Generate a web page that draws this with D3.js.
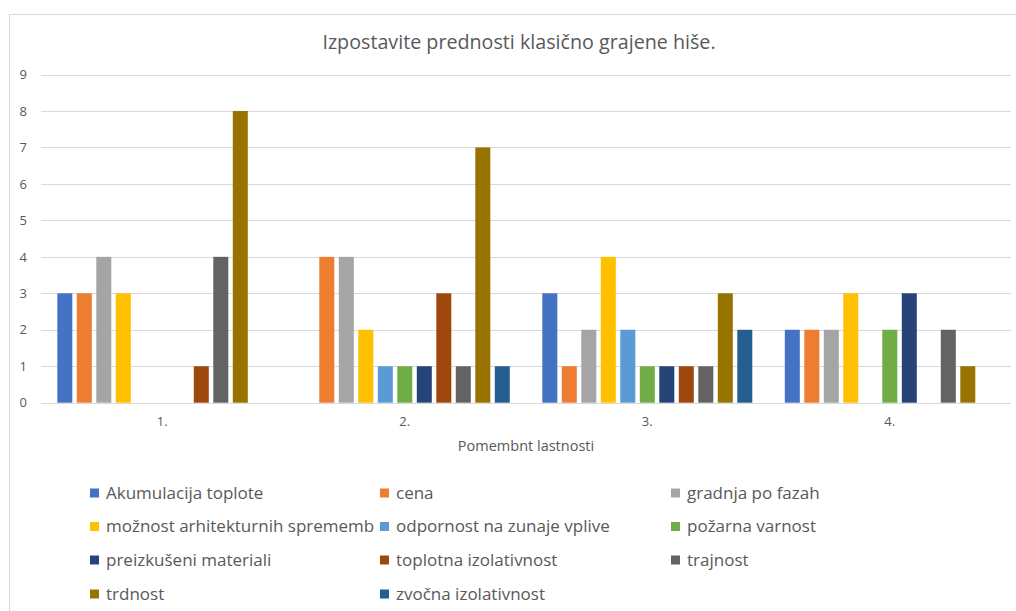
<!DOCTYPE html>
<html>
<head>
<meta charset="utf-8">
<script src="https://cdn.jsdelivr.net/npm/d3@7"></script>
<style>
  html, body { margin: 0; padding: 0; background: #fff; }
  svg { display: block; font-family: "Open Sans", "Liberation Sans", sans-serif; }
</style>
</head>
<body>
<svg id="chart" width="1016" height="611"></svg>
<script>
// Categories on the x axis
const categories = ["1.", "2.", "3.", "4."];

// Series names (legend order)
const seriesNames = [
  "Akumulacija toplote",
  "cena",
  "gradnja po fazah",
  "možnost arhitekturnih sprememb",
  "odpornost na zunaje vplive",
  "požarna varnost",
  "preizkušeni materiali",
  "toplotna izolativnost",
  "trajnost",
  "trdnost",
  "zvočna izolativnost"
];

// Values per series, one entry per category
const akumulacija = [3, 0, 3, 2];
const cena        = [3, 4, 1, 2];
const gradnja     = [4, 4, 2, 2];
const moznost     = [3, 2, 4, 3];
const odpornost   = [0, 1, 2, 0];
const pozarna     = [0, 1, 1, 2];
const preizkuseni = [0, 1, 1, 3];
const toplotna    = [1, 3, 1, 0];
const trajnost    = [4, 1, 1, 2];
const trdnost     = [8, 7, 3, 1];
const zvocna      = [0, 1, 2, 0];

const seriesValues = [akumulacija, cena, gradnja, moznost, odpornost, pozarna,
                      preizkuseni, toplotna, trajnost, trdnost, zvocna];

const yTicks = [0, 1, 2, 3, 4, 5, 6, 7, 8, 9];

const colors = ["#4472C4", "#ED7D31", "#A5A5A5", "#FFC000", "#5B9BD5", "#70AD47",
                "#264478", "#9E480E", "#636363", "#997300", "#255E91"];

const titleText = "Izpostavite prednosti klasično grajene hiše.";
const xAxisTitle = "Pomembnt lastnosti";

const svg = d3.select("#chart");
const textColor = "#595959";

// Chart frame
svg.append("rect")
  .attr("x", 9.5).attr("y", 14.5)
  .attr("width", 1016).attr("height", 611)
  .attr("fill", "#fff").attr("stroke", "#d9d9d9").attr("stroke-width", 1);

const plot = { left: 41, right: 1011, top: 74.5, bottom: 402.7 };

const x0 = d3.scaleBand()
  .domain(categories)
  .range([plot.left, plot.right])
  .paddingInner(0).paddingOuter(0);

const x1 = d3.scaleBand()
  .domain(d3.range(seriesNames.length))
  .range([16.3, 226.3])
  .paddingInner(0.23).paddingOuter(0);

const y = d3.scaleLinear().domain([0, 9]).range([plot.bottom, plot.top]);

// Gridlines
svg.append("g")
  .selectAll("line")
  .data(yTicks)
  .join("line")
  .attr("x1", plot.left).attr("x2", plot.right)
  .attr("y1", d => Math.round(y(d)) + 0.5).attr("y2", d => Math.round(y(d)) + 0.5)
  .attr("stroke", "#d9d9d9").attr("stroke-width", 1);

// Y axis labels
const yAxis = d3.axisLeft(y).tickValues(yTicks).tickSize(0).tickPadding(0);
const yg = svg.append("g")
  .attr("transform", `translate(${plot.left - 14},0)`)
  .call(yAxis);
yg.select(".domain").remove();
yg.selectAll("text")
  .attr("fill", textColor)
  .attr("font-size", 13)
  .attr("font-family", "Open Sans, Liberation Sans, sans-serif");

// Bars
const groups = svg.append("g")
  .selectAll("g")
  .data(categories)
  .join("g")
  .attr("transform", d => `translate(${x0(d)},0)`);

groups.selectAll("rect")
  .data((c, ci) => seriesValues.map((vals, si) => ({ si, v: vals[ci] })))
  .join("rect")
  .filter(d => d.v > 0)
  .attr("x", d => x1(d.si))
  .attr("width", x1.bandwidth())
  .attr("y", d => y(d.v))
  .attr("height", d => y(0) - y(d.v))
  .attr("fill", d => colors[d.si]);

// X axis (category labels)
const xAxis = d3.axisBottom(x0).tickSize(0).tickPadding(14);
const xg = svg.append("g")
  .attr("transform", `translate(0,${plot.bottom})`)
  .call(xAxis);
xg.select(".domain").remove();
xg.selectAll("text")
  .attr("fill", textColor)
  .attr("font-size", 13)
  .attr("font-family", "Open Sans, Liberation Sans, sans-serif");

// Title
svg.append("text")
  .attr("x", 519).attr("y", 49)
  .attr("text-anchor", "middle")
  .attr("fill", textColor)
  .attr("font-size", 19.7)
  .text(titleText);

// Axis title
svg.append("text")
  .attr("x", 526).attr("y", 451)
  .attr("text-anchor", "middle")
  .attr("fill", textColor)
  .attr("font-size", 14.5)
  .text(xAxisTitle);

// Legend, three columns
const legendCols = [90, 380, 671];
const legendRows = [493, 526.5, 560, 594];
const legend = svg.append("g")
  .selectAll("g")
  .data(seriesNames)
  .join("g")
  .attr("transform", (d, i) => `translate(${legendCols[i % 3]},${legendRows[Math.floor(i / 3)]})`);

legend.append("rect")
  .attr("x", 0).attr("y", -4.5)
  .attr("width", 9).attr("height", 9)
  .attr("fill", (d, i) => colors[i]);

legend.append("text")
  .attr("x", 16).attr("y", 0)
  .attr("dy", "0.35em")
  .attr("fill", textColor)
  .attr("font-size", 17)
  .text(d => d);
</script>
</body>
</html>
